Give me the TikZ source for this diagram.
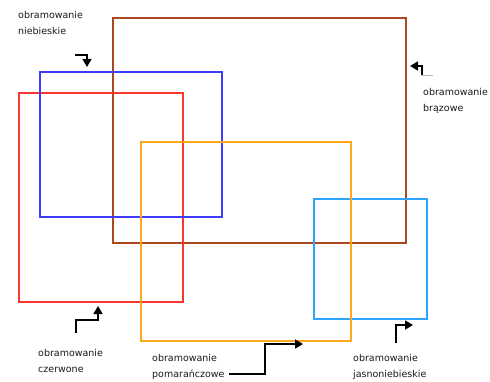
\documentclass[tikz,border=0pt]{standalone}
\usepackage{fontspec}
\setmainfont{DejaVu Sans}
\usepackage{xcolor}
\usetikzlibrary{arrows.meta}

\definecolor{ramkaBraz}{RGB}{170,72,32}
\definecolor{ramkaNieb}{RGB}{60,60,250}
\definecolor{ramkaCzer}{RGB}{250,55,45}
\definecolor{ramkaPom}{RGB}{255,168,30}
\definecolor{ramkaJasn}{RGB}{45,165,255}

\begin{document}
\begin{tikzpicture}[
  x=1pt, y=-1pt,
  frame/.style={draw, rectangle, line width=2.8pt, inner sep=0pt, outer sep=0pt},
  label/.style={align=left, inner sep=0pt, anchor=north west, text=black!90, font=\fontsize{9.5}{16}\selectfont},
  arrowline/.style={-{Triangle[length=8pt,width=9pt]}, line width=1.7pt, black}
]
\useasboundingbox (0,0) rectangle (490,382);

% frames
\node[frame, draw=ramkaBraz, minimum width=293pt, minimum height=225pt] (brazowe) at (259.5,130.5) {};
\node[frame, draw=ramkaCzer, minimum width=164pt, minimum height=209pt] (czerwone) at (101,197.5) {};
\node[frame, draw=ramkaNieb, minimum width=182pt, minimum height=145pt] (niebieskie) at (131,144.5) {};
\node[frame, draw=ramkaJasn, minimum width=113pt, minimum height=120pt] (jasnoniebieskie) at (370.5,259) {};
\node[frame, draw=ramkaPom, minimum width=210pt, minimum height=199pt] (pomaranczowe) at (246,241.5) {};

% labels
\node[label] (lnieb) at (18,11) {obramowanie\\niebieskie};
\node[label] (lbraz) at (423,88) {obramowanie\\brązowe};
\node[label] (lczer) at (38,349) {obramowanie\\czerwone};
\node[label] (lpom) at (152,354) {obramowanie\\pomarańczowe};
\node[label] (ljasn) at (353,354) {obramowanie\\jasnoniebieskie};

% arrow ends
\coordinate (bs) at (75,55);
\coordinate (bt) at (87,67);
\coordinate (brs) at (433,75);
\coordinate (brk) at (422,75);
\coordinate (brt) at (410,66);
\coordinate (rs) at (76,333);
\coordinate (rt) at (98,306);
\coordinate (os) at (229,374);
\coordinate (ot) at (303,344);
\coordinate (ls) at (396,343);
\coordinate (lt) at (413,325);

\draw[arrowline] (bs) -| (bt);
\draw[gray!60, line width=0.8pt] (brs) -- (brk);
\draw[arrowline] (brk) |- (brt);
\draw[arrowline] (rs) -- ++(0,-13) -| (rt);
\draw[arrowline] (os) -- ++(36,0) |- (ot);
\draw[arrowline] (ls) |- (lt);

\end{tikzpicture}
\end{document}
